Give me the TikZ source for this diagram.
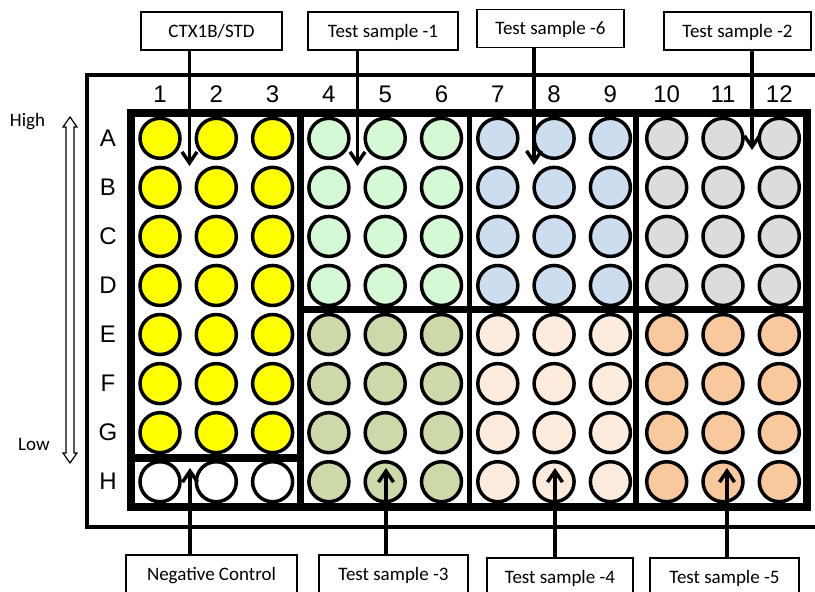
\documentclass[tikz,border=0pt]{standalone}
\usepackage{fontspec}
\setmainfont{Carlito}
\newfontfamily\arialfont{Liberation Sans}
\usetikzlibrary{arrows.meta}

\definecolor{wellyellow}{HTML}{FFFF00}
\definecolor{wellmint}{HTML}{D5F8D5}
\definecolor{wellblue}{HTML}{CDDDF0}
\definecolor{wellgray}{HTML}{DCDCDC}
\definecolor{wellolive}{HTML}{CCDAAA}
\definecolor{wellpeach}{HTML}{FDECDE}
\definecolor{wellorange}{HTML}{F9C99D}

\begin{document}
\begin{tikzpicture}[x=1pt,y=-1pt,>={Straight Barb[length=11pt,width=15pt]},
    well/.style={circle,draw,line width=3.5pt,minimum size=40pt,inner sep=0pt},
    tag/.style={draw,fill=white,line width=1.2pt,minimum height=38pt,inner sep=0pt,
      text height=12pt,text depth=0pt,font=\fontsize{19}{22}\selectfont},
    platetext/.style={inner sep=0pt,font=\arialfont\fontsize{24}{28}\selectfont},
    sidetext/.style={inner sep=0pt,text height=12pt,text depth=0pt,font=\fontsize{19}{22}\selectfont},
    pointer/.style={->,line width=3.5pt}]
      \useasboundingbox (0,0) rectangle (815,592);
      \clip (0,0) rectangle (815,592);

      \draw[line width=4pt] (86.5,75) rectangle (850,527);
      \draw[line width=8pt] (131,112.5) rectangle (807,507);
      \draw[line width=7pt] (300.5,112.5) -- (300.5,507);
      \draw[line width=5pt] (469.5,112.5) -- (469.5,507);
      \draw[line width=5.5pt] (636,112.5) -- (636,507);
      \draw[line width=7pt] (300.5,309.5) -- (807,309.5);
      \draw[line width=8pt] (131,457.5) -- (300.5,457.5);

      \foreach \c in {1,...,12}
        \node[platetext] (col\c) at ({160+(\c-1)*56.3},94) {\c};
      \foreach \r [count=\i from 0] in {A,...,H}
        \node[platetext] (row\r) at (108,{138.3+\i*49.06}) {\r};

      \foreach \cols/\rows/\shade in {
          {1,2,3}/{A,B,C,D,E,F,G}/wellyellow, {1,2,3}/{H}/white,
          {4,5,6}/{A,B,C,D}/wellmint, {4,5,6}/{E,F,G,H}/wellolive,
          {7,8,9}/{A,B,C,D}/wellblue, {7,8,9}/{E,F,G,H}/wellpeach,
          {10,11,12}/{A,B,C,D}/wellgray, {10,11,12}/{E,F,G,H}/wellorange}
        \foreach \c in \cols
          \foreach \r in \rows
            \node[well,fill=\shade] (\r\c) at (col\c |- row\r) {};

      \draw[line width=1.2pt] (70,117) -- (77,127) -- (74,127) -- (74,453) -- (77,453)
        -- (70,463) -- (63,453) -- (66,453) -- (66,127) -- (63,127) -- cycle;
      \node[sidetext] (high) at (27.5,120.5) {High};
      \node[sidetext] (low) at (34,444) {Low};

      \node[tag,minimum width=141pt] (ctx) at (211.5,31) {CTX1B/STD};
      \node[tag,minimum width=150pt] (ts1) at (383,31) {Test sample -1};
      \node[tag,minimum width=147pt] (ts6) at (550.5,28.5) {Test sample -6};
      \node[tag,minimum width=147pt] (ts2) at (737.5,31) {Test sample -2};
      \node[tag,minimum width=171pt] (neg) at (211.5,574) {Negative Control};
      \node[tag,minimum width=149pt] (ts3) at (393.5,574) {Test sample -3};
      \node[tag,minimum width=146pt] (ts4) at (560,577) {Test sample -4};
      \node[tag,minimum width=149pt] (ts5) at (724.5,577) {Test sample -5};

      \coordinate (ctxtip) at (189.5,166);
      \coordinate (ts1tip) at (357.5,166);
      \coordinate (ts6tip) at (534,165);
      \coordinate (ts2tip) at (752,150);
      \coordinate (negtip) at (190,468);
      \coordinate (ts3tip) at (386,468);
      \coordinate (ts4tip) at (555,468);
      \coordinate (ts5tip) at (727,468);

      \draw[pointer] (ctx.south -| ctxtip) -- (ctxtip);
      \draw[pointer] (ts1.south -| ts1tip) -- (ts1tip);
      \draw[pointer] (ts6.south -| ts6tip) -- (ts6tip);
      \draw[pointer] (ts2.south -| ts2tip) -- (ts2tip);
      \draw[pointer] (neg.north -| negtip) -- (negtip);
      \draw[pointer] (ts3.north -| ts3tip) -- (ts3tip);
      \draw[pointer] (ts4.north -| ts4tip) -- (ts4tip);
      \draw[pointer] (ts5.north -| ts5tip) -- (ts5tip);
    \end{tikzpicture}
\end{document}
